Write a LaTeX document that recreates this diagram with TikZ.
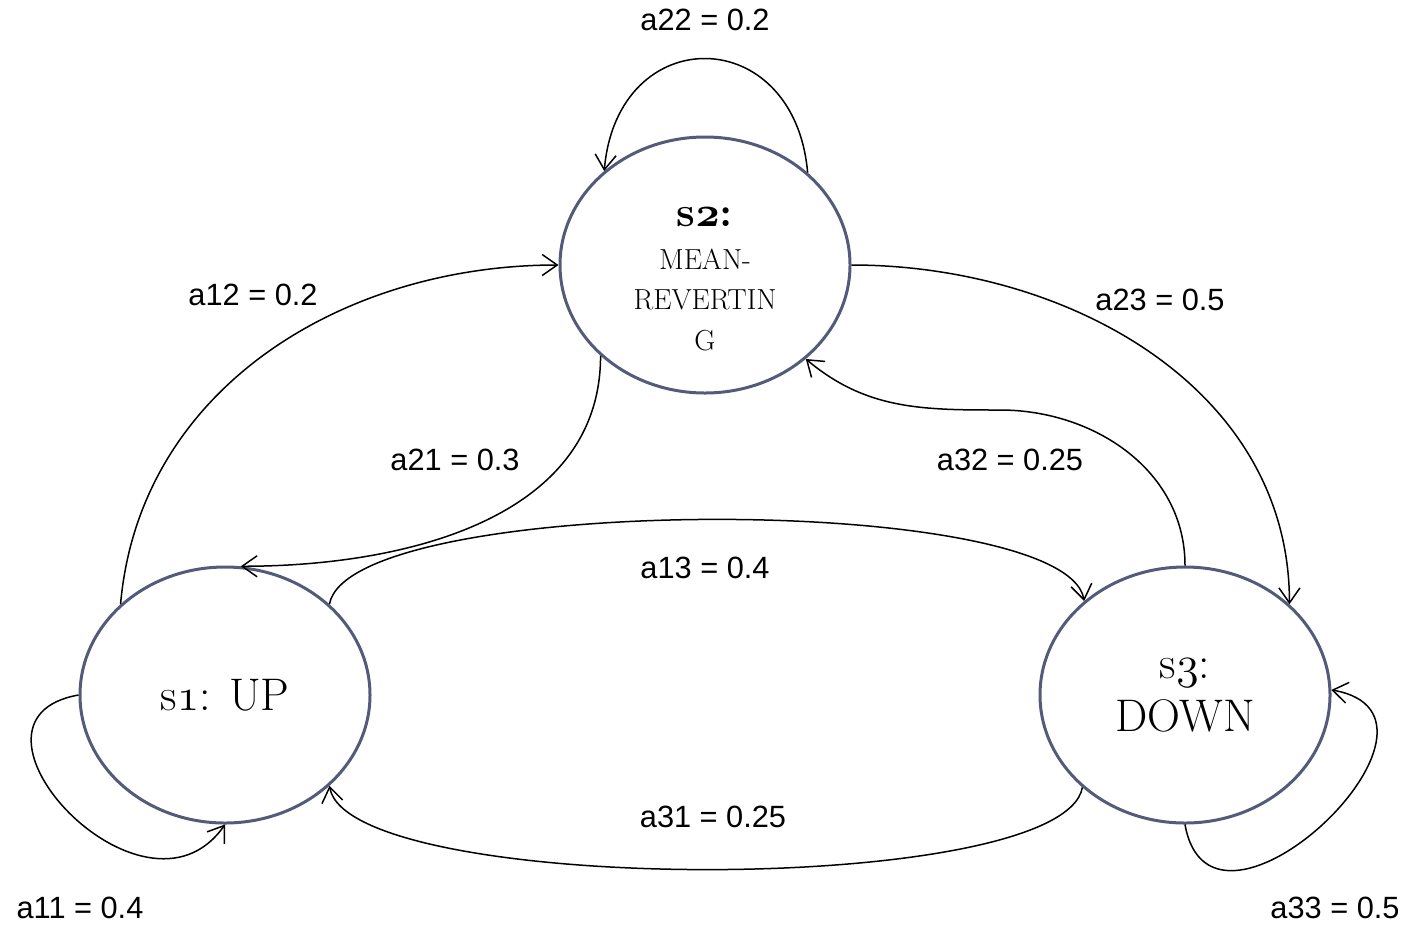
\RequirePackage{fix-cm}
\documentclass[tikz,border=0pt]{standalone}
\usepackage{fontspec}
\usepackage{tikz}
\usepackage{xcolor}
\usetikzlibrary{arrows.meta, positioning, shapes}
\newfontfamily\labelfont{Liberation Sans}
\definecolor{stateblue}{RGB}{84, 90, 122}
\newcommand{\osf}[1]{$\mathnormal{#1}$}

\begin{document}
\begin{tikzpicture}[x=0.2mm,y=-0.2mm,
        state/.style={ellipse,draw=stateblue,line width=0.6mm,inner sep=0pt,
          minimum width=58mm,minimum height=51.2mm,align=center,
          font=\fontsize{26}{30}\selectfont},
        prob/.style={font=\labelfont\fontsize{17.5}{20}\selectfont},
        trans/.style={-{Straight Barb[length=3mm,width=4.2mm]},line width=0.3mm}]
        \useasboundingbox (0,0) rectangle (1408,926);
        % states
        \node[state,font=\fontsize{16.5}{23}\selectfont] (s2) at (705,265)
          {\rule{0pt}{27pt}{\fontsize{24}{28}\selectfont\bfseries s{\boldmath\osf{2}}:}\\[1pt]
           MEAN-\\ REVERTIN\\ G};
        \node[state] (s1) at (225,695) {s\osf{1}: UP};
        \node[state] (s3) at (1185,695) {s\osf{3}:\\ DOWN};
        \coordinate (bend32) at (1000,410);
        % transitions
        \draw[trans] (s2.42) to[out=95,in=85,looseness=1.9] (s2.137);
        \draw[trans] (s1.139) to[out=85,in=180] (s2.west);
        \draw[trans] (s2.221) to[out=-90,in=0] (s1.83);
        \draw[trans] (s2.east) to[out=0,in=90] (s3.41);
        \draw[trans] (s3.north) to[out=90,in=0] (bend32) to[out=180,in=-40] (s2.317);
        \draw[trans] (s1.41) to[out=80,in=100,looseness=0.38] (s3.137);
        \draw[trans] (s3.222) to[out=-100,in=-80,looseness=0.38] (s1.319);
        \draw[trans] (s1.west) to[out=190,in=-125,looseness=1.85] (s1.south);
        \draw[trans] (s3.south) to[out=-80,in=-10,looseness=1.95] (s3.2);
        % labels
        \node[prob] (l22) at (705,20) {a22 = 0.2};
        \node[prob] (l12) at (253,295) {a12 = 0.2};
        \node[prob] (l23) at (1160,300) {a23 = 0.5};
        \node[prob] (l21) at (455,460) {a21 = 0.3};
        \node[prob] (l32) at (1010,460) {a32 = 0.25};
        \node[prob] (l13) at (705,568) {a13 = 0.4};
        \node[prob] (l31) at (713,817) {a31 = 0.25};
        \node[prob] (l11) at (80,908) {a11 = 0.4};
        \node[prob] (l33) at (1335,908) {a33 = 0.5};
      \end{tikzpicture}
\end{document}
